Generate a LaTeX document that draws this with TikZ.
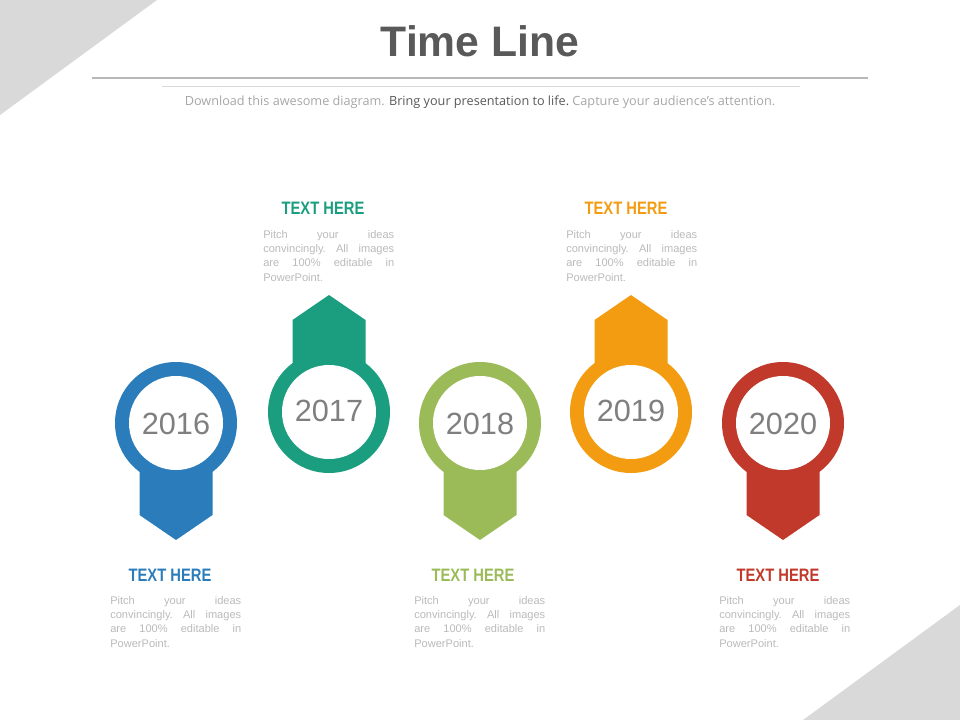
\documentclass[tikz,border=0pt]{standalone}
\usepackage{fontspec}
\setmainfont{Liberation Sans}
\newfontfamily\headfont[FakeStretch=0.82]{Liberation Sans Bold}
\newfontfamily\subfont{Open Sans}
\definecolor{tri}{HTML}{D9D9D9}
\definecolor{titlegray}{HTML}{595959}
\definecolor{yeargray}{HTML}{7F7F7F}
\definecolor{bodygray}{HTML}{BABABA}
\definecolor{subgray}{HTML}{A6A6A6}
\definecolor{cblue}{HTML}{2A7DBA}
\definecolor{cgreen}{HTML}{1A9E7F}
\definecolor{clime}{HTML}{9BBB59}
\definecolor{corange}{HTML}{F39C12}
\definecolor{cred}{HTML}{C0392B}
\newcommand\pitchbody{\makebox[98.25pt][s]{Pitch\hfill your\hfill ideas}\\\makebox[98.25pt][s]{convincingly.\hfill All\hfill images}\\\makebox[98.25pt][s]{are\hfill 100\%\hfill editable\hfill in}\\PowerPoint.}
\tikzset{
  yeartext/.style={font=\fontsize{23}{23}\selectfont, text=yeargray, inner sep=0},
  headtext/.style={font=\headfont\fontsize{13.5}{13.5}\selectfont, inner sep=0, anchor=base},
  bodytext/.style={font=\fontsize{8.3}{10.7}\selectfont, text=bodygray, inner sep=0, anchor=north west, text width=98.25pt, align=left},
}
\newcommand\downpin[4]{% x, y, color, year
  \fill[#3] (#1-36.5,#2) -- (#1+36.5,#2) -- (#1+36.5,#2+92) -- (#1,#2+117) -- (#1-36.5,#2+92) -- cycle;
  \fill[#3] (#1,#2) circle[radius=61];
  \fill[white] (#1,#2) circle[radius=47];
  \node[yeartext] (y#4) at (#1,#2+1) {#4};
}
\newcommand\uppin[4]{%
  \fill[#3] (#1-36.5,#2) -- (#1+36.5,#2) -- (#1+36.5,#2-92) -- (#1,#2-117) -- (#1-36.5,#2-92) -- cycle;
  \fill[#3] (#1,#2) circle[radius=61];
  \fill[white] (#1,#2) circle[radius=47];
  \node[yeartext] (y#4) at (#1,#2-1) {#4};
}
\begin{document}
\begin{tikzpicture}[x=0.75pt,y=-0.75pt]
\useasboundingbox (0,0) rectangle (960,720);
% background triangles
\fill[tri] (0,0) -- (157,0) -- (0,115) -- cycle;
\fill[tri] (960,605) -- (960,720) -- (803,720) -- cycle;
% title
\node[font=\bfseries\fontsize{32}{32}\selectfont, text=titlegray, anchor=base, inner sep=0] (title) at (480,57) {Time Line};
\draw[line width=0.9pt, color=black!28] (92,78) -- (868,78);
\draw[line width=0.75pt, color=black!15] (162,87) -- (800,87);
\node[font=\subfont\fontsize{9.5}{11}\selectfont, anchor=base, inner sep=0] (sub) at (480,106)
  {\textcolor{subgray}{Download this awesome diagram.} \textcolor{titlegray}{Bring your presentation to life.}\ \textcolor{subgray}{Capture your audience’s attention.}};
% pins
\downpin{176}{423}{cblue}{2016}
\uppin{329}{412}{cgreen}{2017}
\downpin{480}{423}{clime}{2018}
\uppin{631}{412}{corange}{2019}
\downpin{783}{423}{cred}{2020}
% headings and texts
\node[headtext, text=cblue] (h1) at (170,581) {TEXT HERE};
\node[bodytext] (b1) at (110,596) {\pitchbody};
\node[headtext, text=cgreen] (h2) at (323,215) {TEXT HERE};
\node[bodytext] (b2) at (263,230) {\pitchbody};
\node[headtext, text=clime] (h3) at (473,581) {TEXT HERE};
\node[bodytext] (b3) at (414,596) {\pitchbody};
\node[headtext, text=corange] (h4) at (626,215) {TEXT HERE};
\node[bodytext] (b4) at (566,230) {\pitchbody};
\node[headtext, text=cred] (h5) at (778,581) {TEXT HERE};
\node[bodytext] (b5) at (719,596) {\pitchbody};
\end{tikzpicture}
\end{document}
